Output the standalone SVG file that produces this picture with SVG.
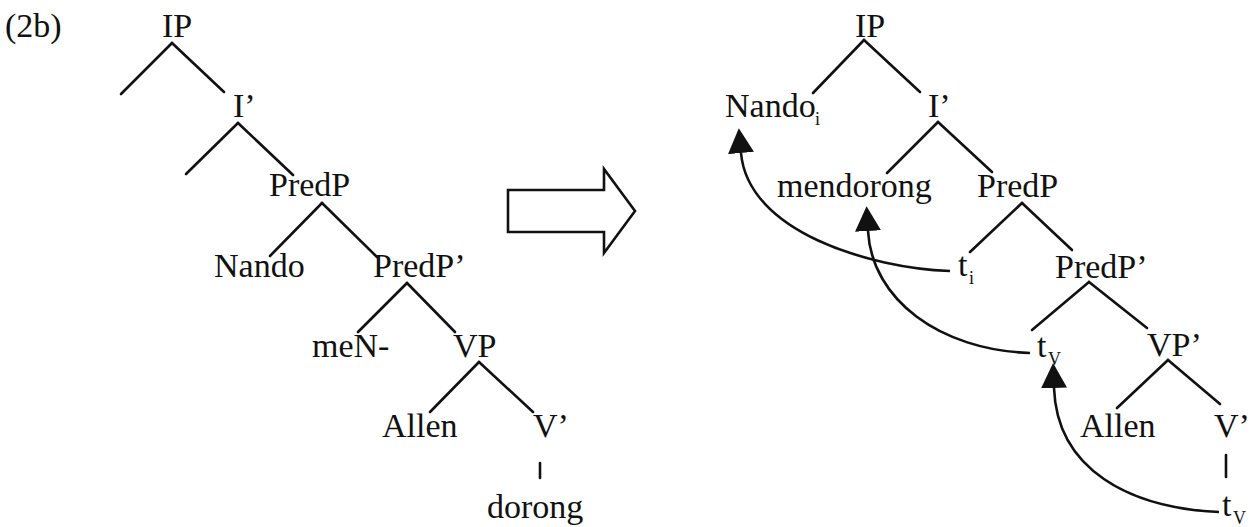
<svg xmlns="http://www.w3.org/2000/svg" width="1251" height="527" viewBox="0 0 1251 527">
  <style>
    text { font-family: "Liberation Serif", "Times New Roman", serif; font-size: 34px; fill: #111; }
    .sub { font-size: 18px; }
    .branch line { stroke: #111; stroke-width: 2.6; stroke-linecap: round; }
    .move { fill: none; stroke: #111; stroke-width: 2.6; marker-end: url(#head); }
    .block { fill: #fff; stroke: #111; stroke-width: 2.6; stroke-linejoin: miter; }
  </style>
  <defs>
    <marker id="head" markerUnits="userSpaceOnUse" markerWidth="26" markerHeight="28" refX="0" refY="12" orient="auto" viewBox="0 0 24 24">
      <path d="M0,0 L23,12 L0,24 z" fill="#111"/>
    </marker>
  </defs>

  <rect width="1251" height="527" fill="#fff"/>

  <text id="label" x="5" y="37">(2b)</text>

  <!-- Tree before movement -->
  <g id="tree-left">
    <g id="l-ip"><text x="162" y="37">IP</text></g>
    <g id="l-ibar"><text x="233" y="117">I’</text></g>
    <g id="l-predp"><text x="269" y="196">PredP</text></g>
    <g id="l-nando"><text x="214" y="277">Nando</text></g>
    <g id="l-predpbar"><text x="373" y="277">PredP’</text></g>
    <g id="l-men"><text x="312" y="357">meN-</text></g>
    <g id="l-vp"><text x="453" y="357">VP</text></g>
    <g id="l-allen"><text x="382" y="437">Allen</text></g>
    <g id="l-vbar"><text x="533" y="437">V’</text></g>
    <g id="l-dorong"><text x="487" y="518">dorong</text></g>
  </g>

  <!-- Tree after movement -->
  <g id="tree-right">
    <g id="r-ip"><text x="855" y="37">IP</text></g>
    <g id="r-nando"><text x="725" y="117">Nando</text><text class="sub" x="815" y="125">i</text></g>
    <g id="r-ibar"><text x="928" y="117">I’</text></g>
    <g id="r-mendorong"><text x="777" y="197">mendorong</text></g>
    <g id="r-predp"><text x="977" y="197">PredP</text></g>
    <g id="r-ti"><text x="958" y="276">t</text><text class="sub" x="969" y="284">i</text></g>
    <g id="r-predpbar"><text x="1055" y="278">PredP’</text></g>
    <g id="r-tv1"><text x="1037" y="357">t</text><text class="sub" x="1048" y="365">V</text></g>
    <g id="r-vpbar"><text x="1147" y="356">VP’</text></g>
    <g id="r-allen"><text x="1080" y="437">Allen</text></g>
    <g id="r-vbar"><text x="1214" y="437">V’</text></g>
    <g id="r-tv2"><text x="1222" y="516">t</text><text class="sub" x="1233" y="524">V</text></g>
  </g>

  <!-- Connectors: branches, movement arrows and the transition arrow -->
  <g id="connectors">
    <g class="branch">
      <line x1="172" y1="43" x2="121" y2="94"/>
      <line x1="172" y1="43" x2="224" y2="92"/>
      <line x1="238" y1="123" x2="186" y2="174"/>
      <line x1="238" y1="123" x2="293" y2="175"/>
      <line x1="322" y1="203" x2="270" y2="256"/>
      <line x1="322" y1="203" x2="377" y2="257"/>
      <line x1="407" y1="283" x2="358" y2="332"/>
      <line x1="407" y1="283" x2="455" y2="332"/>
      <line x1="479" y1="362" x2="430" y2="412"/>
      <line x1="479" y1="362" x2="533" y2="412"/>
      <line x1="540" y1="463" x2="540" y2="478"/>

      <line x1="864" y1="40" x2="813" y2="93"/>
      <line x1="864" y1="40" x2="920" y2="92"/>
      <line x1="938" y1="122" x2="887" y2="173"/>
      <line x1="938" y1="122" x2="992" y2="172"/>
      <line x1="1022" y1="203" x2="970" y2="252"/>
      <line x1="1022" y1="203" x2="1072" y2="250"/>
      <line x1="1089" y1="282" x2="1032" y2="330"/>
      <line x1="1089" y1="282" x2="1147" y2="328"/>
      <line x1="1168" y1="360" x2="1117" y2="408"/>
      <line x1="1168" y1="360" x2="1220" y2="404"/>
      <line x1="1226" y1="455" x2="1226" y2="477"/>
    </g>

    <path class="move" d="M950,271 C870,268 748,232 741,153"/>
    <path class="move" d="M1030,353 C940,350 872,300 868,231"/>
    <path class="move" d="M1219,512 C1130,508 1057,470 1054,388"/>

    <polygon class="block" points="508,190 604,190 604,169 635,211 604,253 604,232 508,232"/>
  </g>
</svg>
